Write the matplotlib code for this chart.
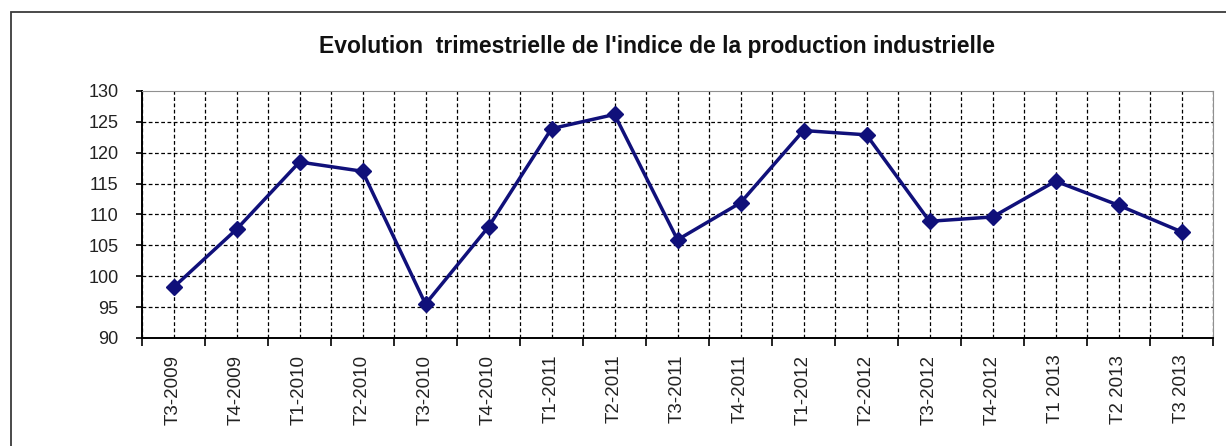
#!/usr/bin/env python3
"""Quarterly industrial production index, T3-2009 .. T3 2013 (line chart)."""
import matplotlib
matplotlib.use("Agg")
import matplotlib.pyplot as plt
from matplotlib.patches import Rectangle
import numpy as np

W, H, DPI = 1226, 446, 100

QUARTERS = ["T3-2009", "T4-2009", "T1-2010", "T2-2010", "T3-2010", "T4-2010",
            "T1-2011", "T2-2011", "T3-2011", "T4-2011", "T1-2012", "T2-2012",
            "T3-2012", "T4-2012", "T1 2013", "T2 2013", "T3 2013"]
INDEX = [98.2, 107.6, 118.5, 117.0, 95.5, 108.0,
         123.9, 126.2, 105.9, 111.9, 123.6, 122.9,
         108.9, 109.6, 115.4, 111.5, 107.2]
Y_TICKS = list(range(90, 131, 5))

TITLE = "Evolution  trimestrielle de l'indice de la production industrielle"
NAVY = "#10107a"

plt.rcParams["font.family"] = ["Liberation Sans", "DejaVu Sans"]

fig = plt.figure(figsize=(W / DPI, H / DPI), dpi=DPI)

# outer chart-area border (only left/top visible in the original crop)
fig.add_artist(Rectangle((11 / W, -0.2), 2.0, 1.2 - 12 / H,
                         transform=fig.transFigure, fill=False,
                         edgecolor="#3a3a3a", linewidth=1.3))

ax = fig.add_axes([142 / W, 1 - 338 / H, (1213 - 142) / W, (338 - 91) / H])

x = np.arange(len(QUARTERS))
ax.plot(x, INDEX, color=NAVY, linewidth=2.5, marker="D", markersize=8.5,
        markerfacecolor=NAVY, markeredgecolor=NAVY, zorder=5)

ax.set_xlim(-0.5, len(QUARTERS) - 0.5)
ax.set_ylim(90, 130)
ax.set_yticks(Y_TICKS)
ax.set_yticklabels([str(v) for v in Y_TICKS], fontsize=13, color="#222222")

ax.set_xticks(x)
ax.set_xticklabels(QUARTERS, rotation=90, fontsize=13.5, color="#222222")
ax.set_xticks(np.arange(-0.5, len(QUARTERS), 1.0), minor=True)
ax.tick_params(axis="x", which="major", length=0, pad=12)
ax.tick_params(axis="x", which="minor", length=6, width=1.2, color="black",
               direction="out")
ax.tick_params(axis="y", length=4, width=1.2, direction="out", pad=13)

grid_kw = dict(color="black", linestyle=(0, (3, 2)), linewidth=0.9)
ax.grid(True, axis="x", which="both", **grid_kw)
for v in Y_TICKS[1:-1]:
    ax.axhline(v, **grid_kw, zorder=1)
ax.set_axisbelow(True)

ax.spines["left"].set_color("black")
ax.spines["left"].set_linewidth(1.4)
ax.spines["bottom"].set_color("black")
ax.spines["bottom"].set_linewidth(1.4)
ax.spines["top"].set_color("#909090")
ax.spines["right"].set_color("#909090")

fig.text(657 / W, 1 - 47 / H, TITLE, ha="center", va="center",
         fontsize=16.5, fontweight="bold", color="#111111")

fig.savefig("out.png", dpi=DPI)
